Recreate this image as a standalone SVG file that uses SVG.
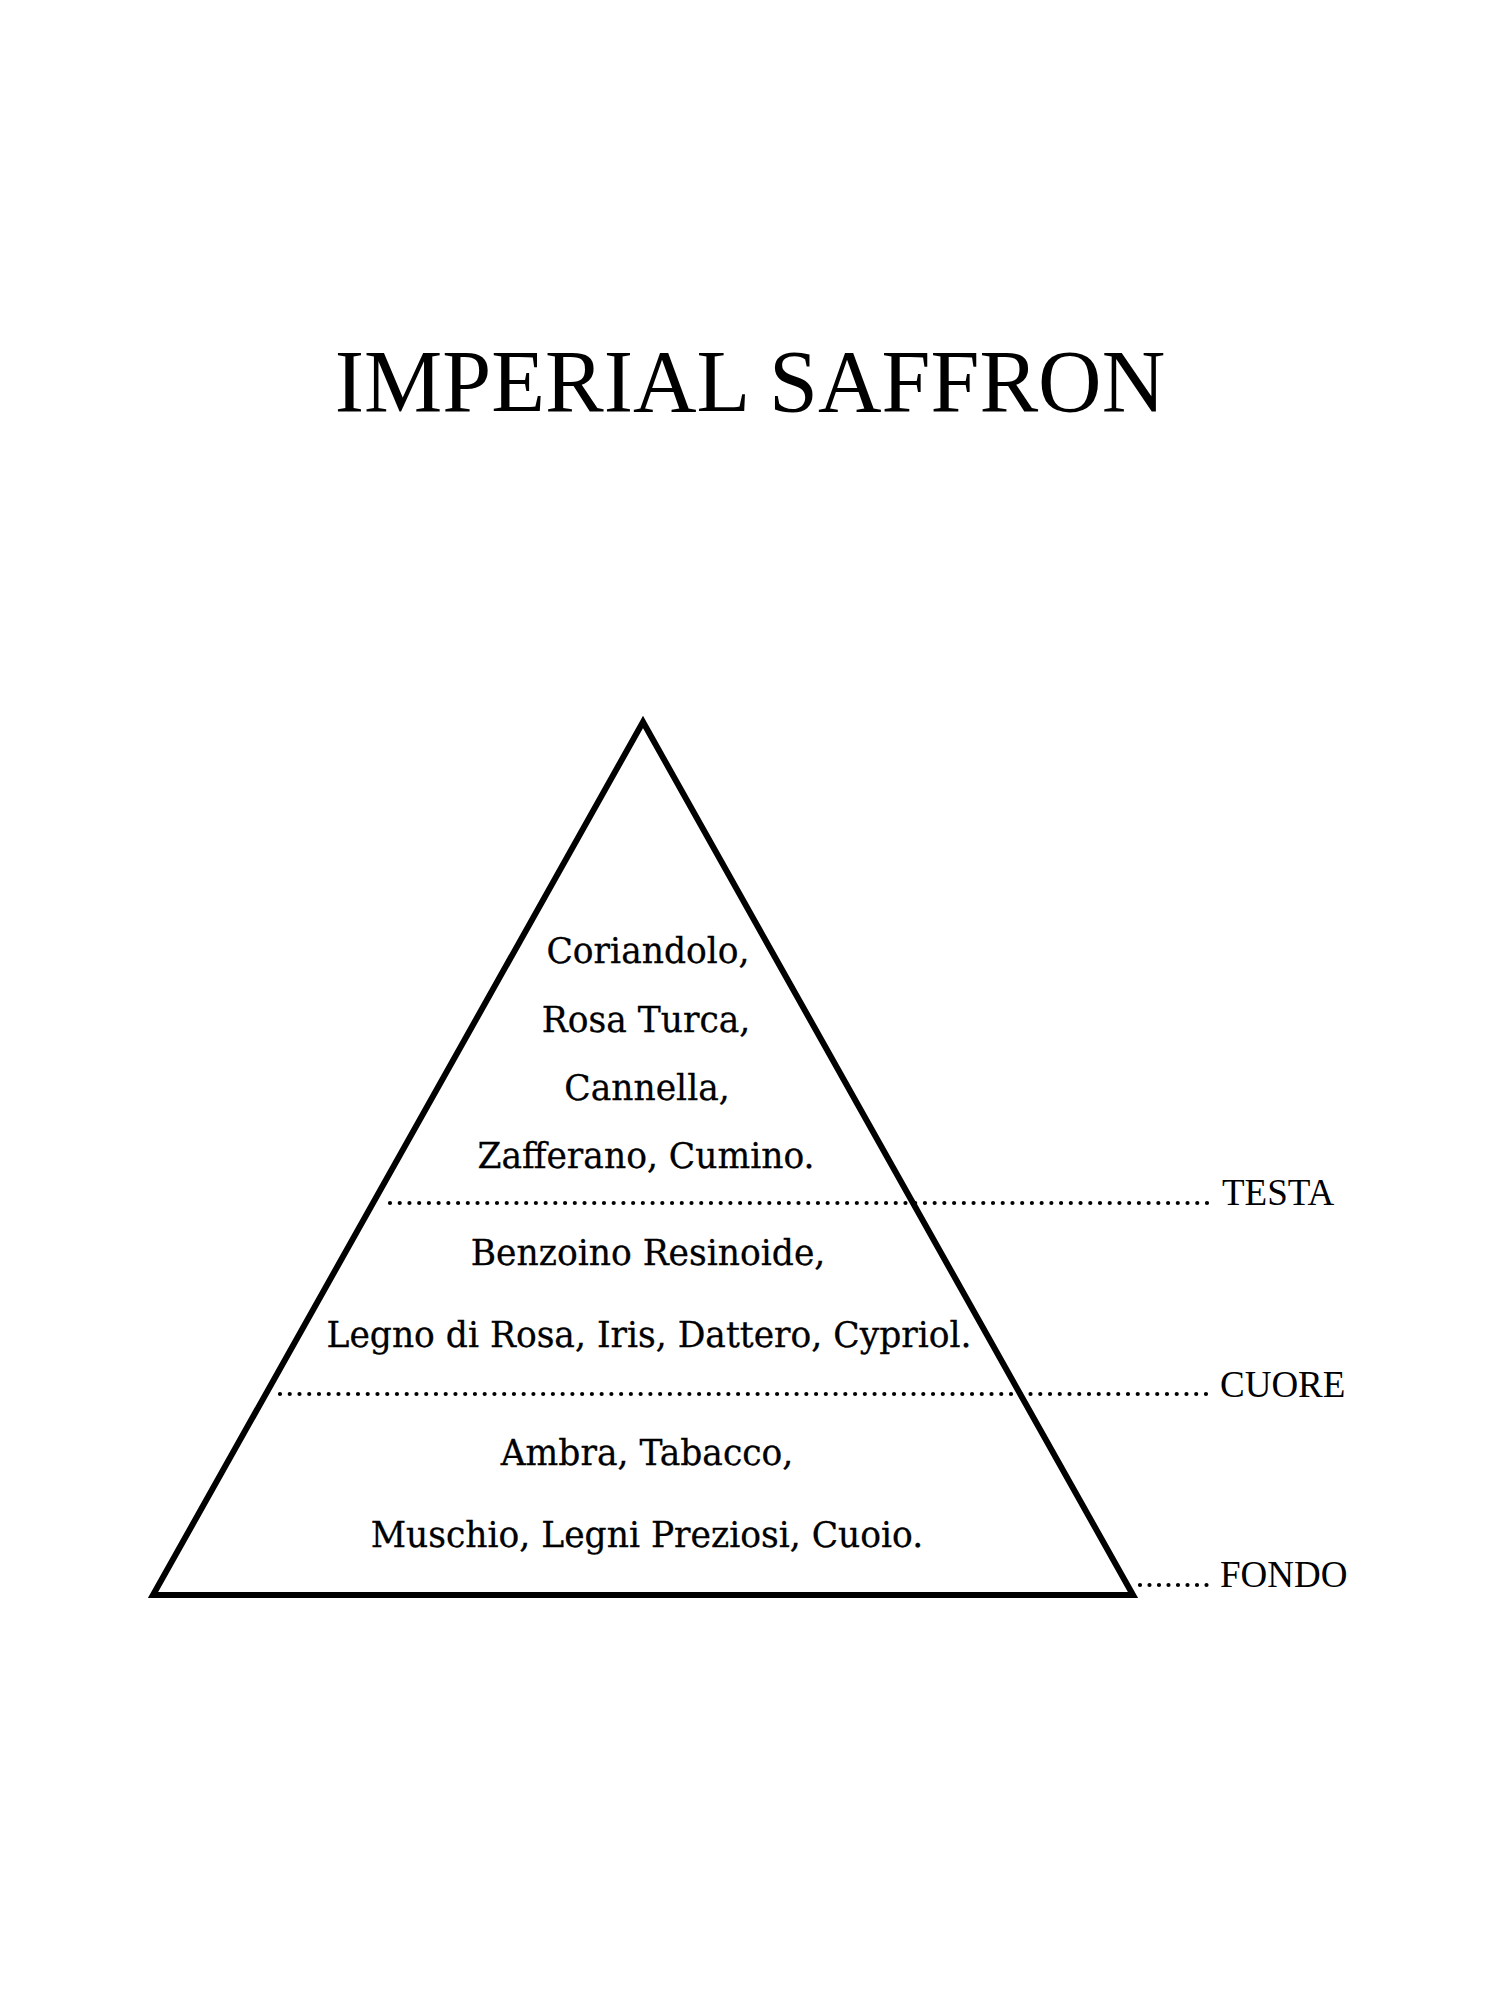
<svg xmlns="http://www.w3.org/2000/svg" width="1500" height="2000" viewBox="0 0 1500 2000">
  <style>
    .title { font-family: "Liberation Serif", "Times New Roman", serif; font-size: 88px; fill: #000; }
    .note { font-family: "DejaVu Serif", "Liberation Serif", serif; font-size: 34.5px; fill: #000; text-anchor: middle; stroke: #000; stroke-width: 0.3; }
    .label { font-family: "Liberation Serif", "Times New Roman", serif; font-size: 37px; fill: #000; }
    .dots { stroke: #000; stroke-width: 4.2; stroke-linecap: round; fill: none; }
    .tri { stroke: #000; stroke-width: 6; fill: none; stroke-linejoin: miter; stroke-miterlimit: 20; }
  </style>
  <rect width="1500" height="2000" fill="#fff"/>

  <g id="title">
    <text class="title" x="750" y="411" text-anchor="middle">IMPERIAL SAFFRON</text>
  </g>

  <g id="pyramid">
    <polygon class="tri" points="643,722 153,1595 1133,1595"/>
  </g>

  <g id="connectors">
    <line class="dots" x1="390" y1="1203" x2="1207.5" y2="1203" stroke-dasharray="0 9.726"/>
    <line class="dots" x1="280" y1="1394" x2="1206.5" y2="1394" stroke-dasharray="0 9.747"/>
    <line class="dots" x1="1140" y1="1585" x2="1206.7" y2="1585" stroke-dasharray="0 9.5"/>
  </g>

  <g id="testa-notes">
    <text class="note" x="648" y="963">Coriandolo,</text>
    <text class="note" x="646" y="1032">Rosa Turca,</text>
    <text class="note" x="647" y="1100">Cannella,</text>
    <text class="note" x="646" y="1168">Zafferano, Cumino.</text>
  </g>

  <g id="cuore-notes">
    <text class="note" x="648" y="1265">Benzoino Resinoide,</text>
    <text class="note" x="649" y="1347">Legno di Rosa, Iris, Dattero, Cypriol.</text>
  </g>

  <g id="fondo-notes">
    <text class="note" x="647" y="1465">Ambra, Tabacco,</text>
    <text class="note" x="647" y="1547">Muschio, Legni Preziosi, Cuoio.</text>
  </g>

  <g id="label-testa">
    <text class="label" x="1222" y="1205">TESTA</text>
  </g>
  <g id="label-cuore">
    <text class="label" x="1220" y="1397">CUORE</text>
  </g>
  <g id="label-fondo">
    <text class="label" x="1220" y="1587">FONDO</text>
  </g>
</svg>
